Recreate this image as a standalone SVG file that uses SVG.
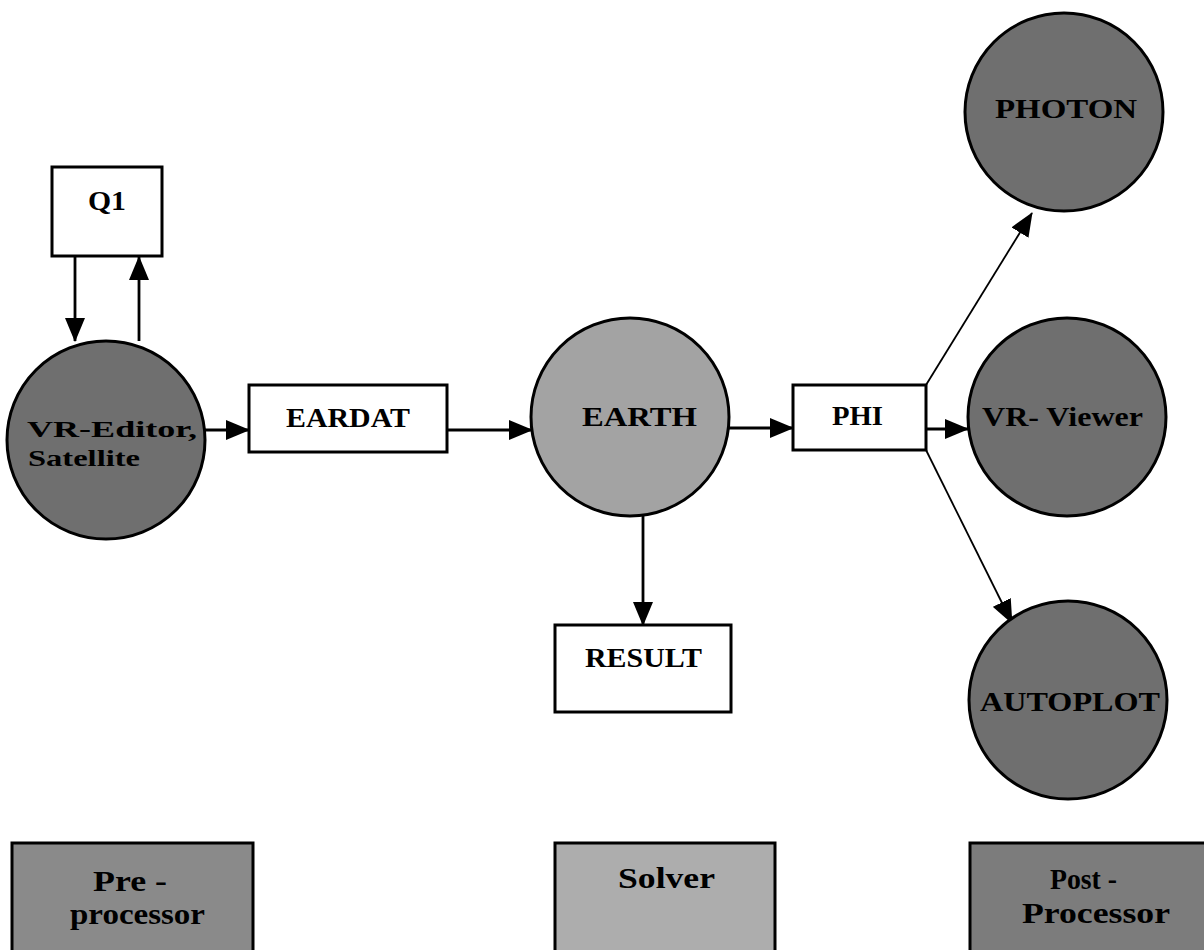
<svg xmlns="http://www.w3.org/2000/svg" width="1204" height="950" viewBox="0 0 1204 950">
<style>
.box{fill:#ffffff;stroke:#000;stroke-width:3}
.dark{fill:#6f6f6f;stroke:#000;stroke-width:3}
.light{fill:#a3a3a3;stroke:#000;stroke-width:3}
.lg1{fill:#8a8a8a;stroke:#000;stroke-width:3}
.lg2{fill:#adadad;stroke:#000;stroke-width:3}
.lg3{fill:#7c7c7c;stroke:#000;stroke-width:3}
.t{font-family:"Liberation Serif","Times New Roman",serif;font-weight:bold;font-size:27px;fill:#000}
.ts{font-family:"Liberation Serif","Times New Roman",serif;font-weight:bold;font-size:24px;fill:#000}
.lt{font-family:"Liberation Serif","Times New Roman",serif;font-weight:bold;font-size:30px;fill:#000}
.c{fill:none;stroke:#000;stroke-width:2.8}
.d{fill:none;stroke:#000;stroke-width:1.8}
</style>
<defs>
<marker id="ah" markerUnits="userSpaceOnUse" markerWidth="24" markerHeight="20" refX="23" refY="10" orient="auto">
<path d="M0,0 L24,10 L0,20 z" fill="#000"/>
</marker>
</defs>
<rect width="1204" height="950" fill="#fff"/>
<g id="connectors">
<line class="c" x1="75" y1="256" x2="75" y2="341" marker-end="url(#ah)"/>
<line class="c" x1="139" y1="341" x2="139" y2="257" marker-end="url(#ah)"/>
<line class="c" x1="205" y1="430" x2="249" y2="430" marker-end="url(#ah)"/>
<line class="c" x1="447" y1="430" x2="532" y2="430" marker-end="url(#ah)"/>
<line class="c" x1="729" y1="428" x2="793" y2="428" marker-end="url(#ah)"/>
<line class="c" x1="643" y1="516" x2="643" y2="625" marker-end="url(#ah)"/>
<line class="d" x1="926" y1="385" x2="1032" y2="213" marker-end="url(#ah)"/>
<line class="c" x1="926" y1="429" x2="968" y2="429" marker-end="url(#ah)"/>
<line class="d" x1="926" y1="450" x2="1012" y2="623" marker-end="url(#ah)"/>
</g>
<g id="Q1">
<rect class="box" x="52" y="167" width="110" height="89"/>
<text class="t" x="107" y="210" text-anchor="middle" textLength="38" lengthAdjust="spacingAndGlyphs">Q1</text>
</g>
<g id="VREditor">
<circle class="dark" cx="106" cy="440" r="99"/>
<text class="ts" x="27" y="437" textLength="170" lengthAdjust="spacingAndGlyphs">VR-Editor,</text>
<text class="ts" x="28" y="466" textLength="112" lengthAdjust="spacingAndGlyphs">Satellite</text>
</g>
<g id="EARDAT">
<rect class="box" x="249" y="385" width="198" height="67"/>
<text class="t" x="286" y="427" textLength="124" lengthAdjust="spacingAndGlyphs">EARDAT</text>
</g>
<g id="EARTH">
<circle class="light" cx="630" cy="417" r="99"/>
<text class="t" x="582" y="426" textLength="115" lengthAdjust="spacingAndGlyphs">EARTH</text>
</g>
<g id="RESULT">
<rect class="box" x="555" y="625" width="176" height="87"/>
<text class="t" x="585" y="667" textLength="117" lengthAdjust="spacingAndGlyphs">RESULT</text>
</g>
<g id="PHI">
<rect class="box" x="793" y="385" width="133" height="65"/>
<text class="t" x="832" y="425" textLength="51" lengthAdjust="spacingAndGlyphs">PHI</text>
</g>
<g id="PHOTON">
<circle class="dark" cx="1064" cy="112" r="99"/>
<text class="t" x="995" y="118" textLength="142" lengthAdjust="spacingAndGlyphs">PHOTON</text>
</g>
<g id="VRViewer">
<circle class="dark" cx="1067" cy="417" r="99"/>
<text class="t" x="982" y="426" textLength="161" lengthAdjust="spacingAndGlyphs">VR- Viewer</text>
</g>
<g id="AUTOPLOT">
<circle class="dark" cx="1068" cy="700" r="99"/>
<text class="t" x="980" y="711" textLength="180" lengthAdjust="spacingAndGlyphs">AUTOPLOT</text>
</g>
<g id="legend-pre">
<rect class="lg1" x="12" y="843" width="241" height="120"/>
<text class="lt" x="93" y="891" textLength="74" lengthAdjust="spacingAndGlyphs">Pre -</text>
<text class="lt" x="70" y="924" textLength="135" lengthAdjust="spacingAndGlyphs">processor</text>
</g>
<g id="legend-solver">
<rect class="lg2" x="555" y="843" width="220" height="120"/>
<text class="lt" x="618" y="888" textLength="97" lengthAdjust="spacingAndGlyphs">Solver</text>
</g>
<g id="legend-post">
<rect class="lg3" x="970" y="843" width="250" height="120"/>
<text class="lt" x="1050" y="889" textLength="67" lengthAdjust="spacingAndGlyphs">Post -</text>
<text class="lt" x="1022" y="923" textLength="148" lengthAdjust="spacingAndGlyphs">Processor</text>
</g>
</svg>
